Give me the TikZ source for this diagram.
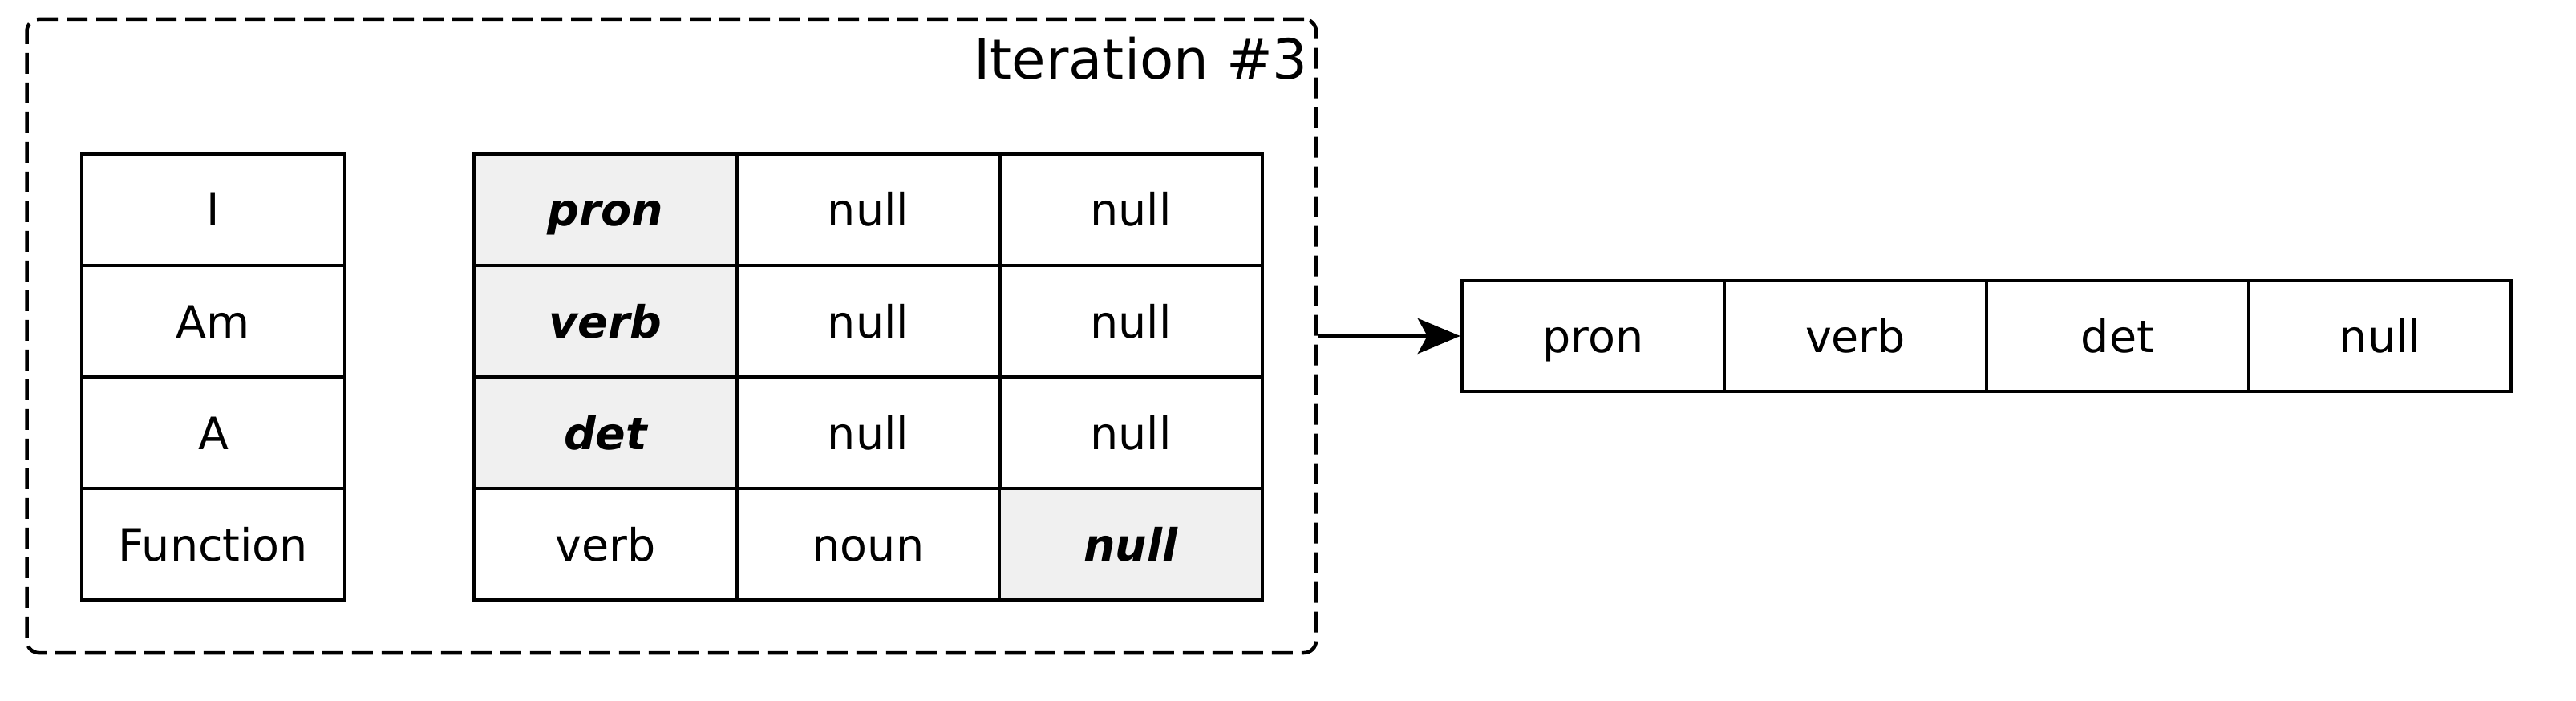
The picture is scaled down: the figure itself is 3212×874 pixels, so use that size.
\documentclass[tikz,border=0pt]{standalone}
\usepackage{fontspec}
\setmainfont{DejaVu Sans}
\usetikzlibrary{arrows.meta}
\definecolor{hl}{HTML}{F0F0F0}
\begin{document}
\begin{tikzpicture}[x=1pt,y=-1pt,
  cellfont/.style={font=\fontsize{55.5}{62}\selectfont},
  cell/.style={draw, line width=4.5pt, minimum width=328pt, minimum height=139pt,
    inner sep=0pt, cellfont, text height=41pt, text depth=0pt, anchor=center},
  hi/.style={fill=hl, font=\fontsize{55.5}{62}\selectfont\bfseries\itshape},
  iterbox/.style={draw, line width=4.5pt, dash pattern=on 26pt off 11pt,
    rounded corners=15pt, minimum width=1607.5pt, minimum height=790pt, inner sep=0pt},
  conn/.style={line width=4.5pt, -{Stealth[length=53pt,width=44pt,inset=12pt]}}
]
\useasboundingbox (0,0) rectangle (3212,874);

% iteration frame
\node[iterbox] (box) at (837.25,419) {};
\node[anchor=base east, inner sep=0pt, font=\fontsize{69}{80}\selectfont] (lab) at (1631,99) {Iteration \#3};

% words table
\node[cell] (w1) at (266,261.5) {I};
\node[cell] (w2) at (266,400.5) {Am};
\node[cell] (w3) at (266,539.5) {A};
\node[cell] (w4) at (266,678.5) {Function};

% tag table
\node[cell,hi] (t11) at (755,261.5) {pron};
\node[cell] (t12) at (1082.5,261.5) {null};
\node[cell] (t13) at (1410,261.5) {null};
\node[cell,hi] (t21) at (755,400.5) {verb};
\node[cell] (t22) at (1082.5,400.5) {null};
\node[cell] (t23) at (1410,400.5) {null};
\node[cell,hi] (t31) at (755,539.5) {det};
\node[cell] (t32) at (1082.5,539.5) {null};
\node[cell] (t33) at (1410,539.5) {null};
\node[cell] (t41) at (755,678.5) {verb};
\node[cell] (t42) at (1082.5,678.5) {noun};
\node[cell,hi] (t43) at (1410,678.5) {null};

% output row
\node[cell, minimum width=327pt, minimum height=138pt] (o1) at (1986.5,419) {pron};
\node[cell, minimum width=327pt, minimum height=138pt] (o2) at (2313.5,419) {verb};
\node[cell, minimum width=327pt, minimum height=138pt] (o3) at (2640.5,419) {det};
\node[cell, minimum width=327pt, minimum height=138pt] (o4) at (2967.5,419) {null};

% connector
\draw[conn] (box.east |- o1.west) -- (o1.west);
\end{tikzpicture}
\end{document}
